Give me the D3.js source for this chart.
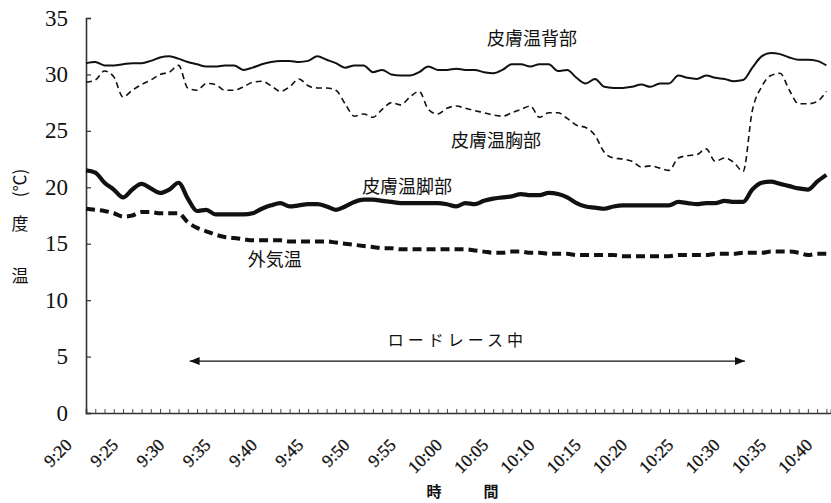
<!DOCTYPE html>
<html><head><meta charset="utf-8">
<script src="https://cdn.jsdelivr.net/npm/d3@7"></script>
<style>
html,body{margin:0;padding:0;background:#fff;}
svg{display:block;}
</style></head>
<body>
<svg id="chart" width="831" height="503"></svg>
<script>
// minutes since 9:20, one reading per minute
const minutes = d3.range(0, 81);
const xTickLabels = ["9:20","9:25","9:30","9:35","9:40","9:45","9:50","9:55","10:00","10:05","10:10","10:15","10:20","10:25","10:30","10:35","10:40"];
const yTicks = [0,5,10,15,20,25,30,35];

const backSkin = [31.0,31.1,30.8,30.8,30.9,31.0,31.0,31.2,31.5,31.6,31.4,31.1,30.9,30.7,30.7,30.8,30.8,30.4,30.6,30.9,
  31.1,31.2,31.2,31.1,31.2,31.6,31.3,31.0,30.6,30.8,30.8,30.2,30.4,30.0,29.9,29.9,30.2,30.7,30.4,30.4,
  30.5,30.4,30.4,30.2,30.1,30.4,30.9,30.9,30.7,30.9,30.9,30.3,30.4,29.7,29.2,29.6,28.9,28.8,28.8,28.9,
  29.1,28.9,29.2,29.2,29.9,29.7,29.6,29.9,29.7,29.6,29.4,29.5,30.6,31.6,31.9,31.8,31.5,31.3,31.3,31.2,30.8];
const chestSkin = [29.3,29.5,30.3,29.8,28.0,28.6,29.1,29.5,30.0,30.2,30.8,28.8,28.6,29.2,29.1,28.6,28.6,28.9,29.3,29.4,
  29.0,28.5,28.9,29.6,29.0,28.8,28.8,28.6,27.4,26.3,26.5,26.2,26.9,27.5,27.3,28.0,28.5,26.9,26.5,27.0,
  27.2,27.0,26.8,26.6,26.4,26.3,26.6,26.9,27.2,26.2,26.6,26.6,26.1,25.5,25.3,24.6,23.1,22.6,22.5,22.3,
  21.8,21.9,21.7,21.5,22.6,22.8,22.9,23.4,22.3,22.6,22.2,21.4,26.8,28.9,29.9,30.1,28.6,27.4,27.4,27.6,28.5];
const legSkin = [21.5,21.3,20.4,19.8,19.1,19.8,20.3,19.9,19.5,19.8,20.4,19.0,17.9,18.0,17.6,17.6,17.6,17.6,17.7,18.1,
  18.4,18.6,18.3,18.4,18.5,18.5,18.3,18.0,18.3,18.7,18.9,18.9,18.8,18.7,18.6,18.6,18.6,18.6,18.6,18.5,
  18.3,18.6,18.5,18.8,19.0,19.1,19.2,19.4,19.3,19.3,19.5,19.4,19.1,18.6,18.3,18.2,18.1,18.3,18.4,18.4,
  18.4,18.4,18.4,18.4,18.7,18.6,18.5,18.6,18.6,18.8,18.7,18.7,19.8,20.4,20.5,20.3,20.1,19.9,19.8,20.5,21.1];
const outside = [18.1,18.0,17.9,17.7,17.4,17.5,17.8,17.8,17.7,17.7,17.7,16.9,16.4,16.1,15.8,15.6,15.5,15.4,15.3,15.3,
  15.3,15.3,15.2,15.2,15.2,15.2,15.2,15.1,15.0,14.9,14.8,14.7,14.6,14.6,14.5,14.5,14.5,14.5,14.5,14.5,
  14.5,14.5,14.4,14.3,14.2,14.2,14.3,14.3,14.2,14.2,14.1,14.1,14.1,14.0,14.0,14.0,14.0,14.0,13.9,13.9,
  13.9,13.9,13.9,13.9,14.0,14.0,14.0,14.0,14.1,14.1,14.1,14.2,14.2,14.2,14.3,14.3,14.3,14.2,14.0,14.1,14.1];

const seriesNames = ["皮膚温背部","皮膚温胸部","皮膚温脚部","外気温"];
// annotation anchors in data space [minute, temperature]
const labelPos = [[48.2, 32.6],[44.3, 23.6],[34.7, 19.5],[20.4, 13.0]];
const raceLabel = "ロードレース中";
const raceSpan = [11.2, 71.2];
const raceLevel = 4.6;

const svg = d3.select("#chart");
const x = d3.scaleLinear().domain([0, 80.5]).range([86, 831]);
const y = d3.scaleLinear().domain([0, 35]).range([413, 18]);

const serif = "'Liberation Serif','DejaVu Serif',serif";
const cjk = "'Noto Sans CJK JP','Noto Sans CJK SC',sans-serif";

// x axis: minute ticks pointing up
const xAxis = d3.axisBottom(x).tickValues(minutes).tickSize(-4).tickFormat("");
const gx = svg.append("g").attr("transform", `translate(0,${y(0)})`).call(xAxis);
gx.select(".domain").attr("stroke", "#333").attr("stroke-width", 1.6);
gx.selectAll(".tick line").attr("stroke", "#444").attr("stroke-width", 1);

svg.append("g").selectAll("text").data(xTickLabels).join("text")
  .attr("transform", (d,i) => `translate(${x(i*5) - 13},${y(0) + 33}) rotate(-45)`)
  .attr("text-anchor", "end")
  .attr("font-family", serif).attr("font-size", 17.5).attr("fill", "#111")
  .attr("stroke", "#111").attr("stroke-width", 0.3)
  .text(d => d);

// y axis with inward ticks
const yAxis = d3.axisLeft(y).tickValues(yTicks).tickSize(-5).tickFormat("");
const gy = svg.append("g").attr("transform", `translate(${x(0)},0)`).call(yAxis);
gy.select(".domain").attr("stroke", "#333").attr("stroke-width", 1.6);
gy.selectAll(".tick line").attr("stroke", "#333").attr("stroke-width", 1.2);
svg.append("g").selectAll("text").data(yTicks).join("text")
  .attr("x", 68).attr("y", d => y(d) + 7.5)
  .attr("text-anchor", "end")
  .attr("font-family", serif).attr("font-size", 23).attr("fill", "#111")
  .text(d => d);

// lines
const line = d3.line().x((d,i) => x(minutes[i])).y(d => y(d)).curve(d3.curveMonotoneX);
const styles = [
  {data: backSkin, w: 2, dash: null},
  {data: chestSkin, w: 1.6, dash: "6,4"},
  {data: legSkin, w: 4.2, dash: null},
  {data: outside, w: 4, dash: "9,5"}
];
svg.append("g").selectAll("path").data(styles).join("path")
  .attr("d", s => line(s.data))
  .attr("fill", "none").attr("stroke", "#111")
  .attr("stroke-width", s => s.w)
  .attr("stroke-dasharray", s => s.dash)
  .attr("stroke-linejoin", "round");

// series labels
svg.append("g").selectAll("text").data(seriesNames).join("text")
  .attr("x", (d,i) => x(labelPos[i][0])).attr("y", (d,i) => y(labelPos[i][1]))
  .attr("text-anchor", "middle")
  .attr("font-family", cjk).attr("font-size", 18).attr("fill", "#111")
  .text(d => d);

// race arrow
const defs = svg.append("defs");
["s","e"].forEach(k => {
  defs.append("marker").attr("id", "arr" + k)
    .attr("viewBox", "0 0 10 8").attr("refX", k === "e" ? 10 : 0).attr("refY", 4)
    .attr("markerWidth", 10).attr("markerHeight", 8).attr("markerUnits", "userSpaceOnUse")
    .attr("orient", "auto")
    .append("path").attr("d", k === "e" ? "M0,0 L10,4 L0,8 Z" : "M10,0 L0,4 L10,8 Z").attr("fill", "#111");
});
svg.append("line")
  .attr("x1", x(raceSpan[0])).attr("x2", x(raceSpan[1]))
  .attr("y1", y(raceLevel)).attr("y2", y(raceLevel))
  .attr("stroke", "#111").attr("stroke-width", 1.4)
  .attr("marker-start", "url(#arrs)").attr("marker-end", "url(#arre)");
svg.append("text")
  .attr("x", x((raceSpan[0] + raceSpan[1]) / 2) - 10).attr("y", y(raceLevel) - 15)
  .attr("text-anchor", "middle").attr("letter-spacing", 4)
  .attr("font-family", cjk).attr("font-size", 16).attr("fill", "#111")
  .text(raceLabel);

// axis titles
const yt = svg.append("g").attr("font-family", cjk).attr("font-size", 17).attr("fill", "#111");
yt.append("text").attr("x", 20).attr("y", 282).attr("text-anchor", "middle").text("温");
yt.append("text").attr("x", 20).attr("y", 230).attr("text-anchor", "middle").text("度");
yt.append("text").attr("transform", "translate(26,183) rotate(-90)").attr("text-anchor", "middle").text("(℃)");
const xt = svg.append("g").attr("font-family", cjk).attr("font-size", 15).attr("font-weight", 700).attr("fill", "#111");
xt.append("text").attr("x", 434).attr("y", 497).attr("text-anchor", "middle").text("時");
xt.append("text").attr("x", 491).attr("y", 497).attr("text-anchor", "middle").text("間");
</script>
</body></html>
